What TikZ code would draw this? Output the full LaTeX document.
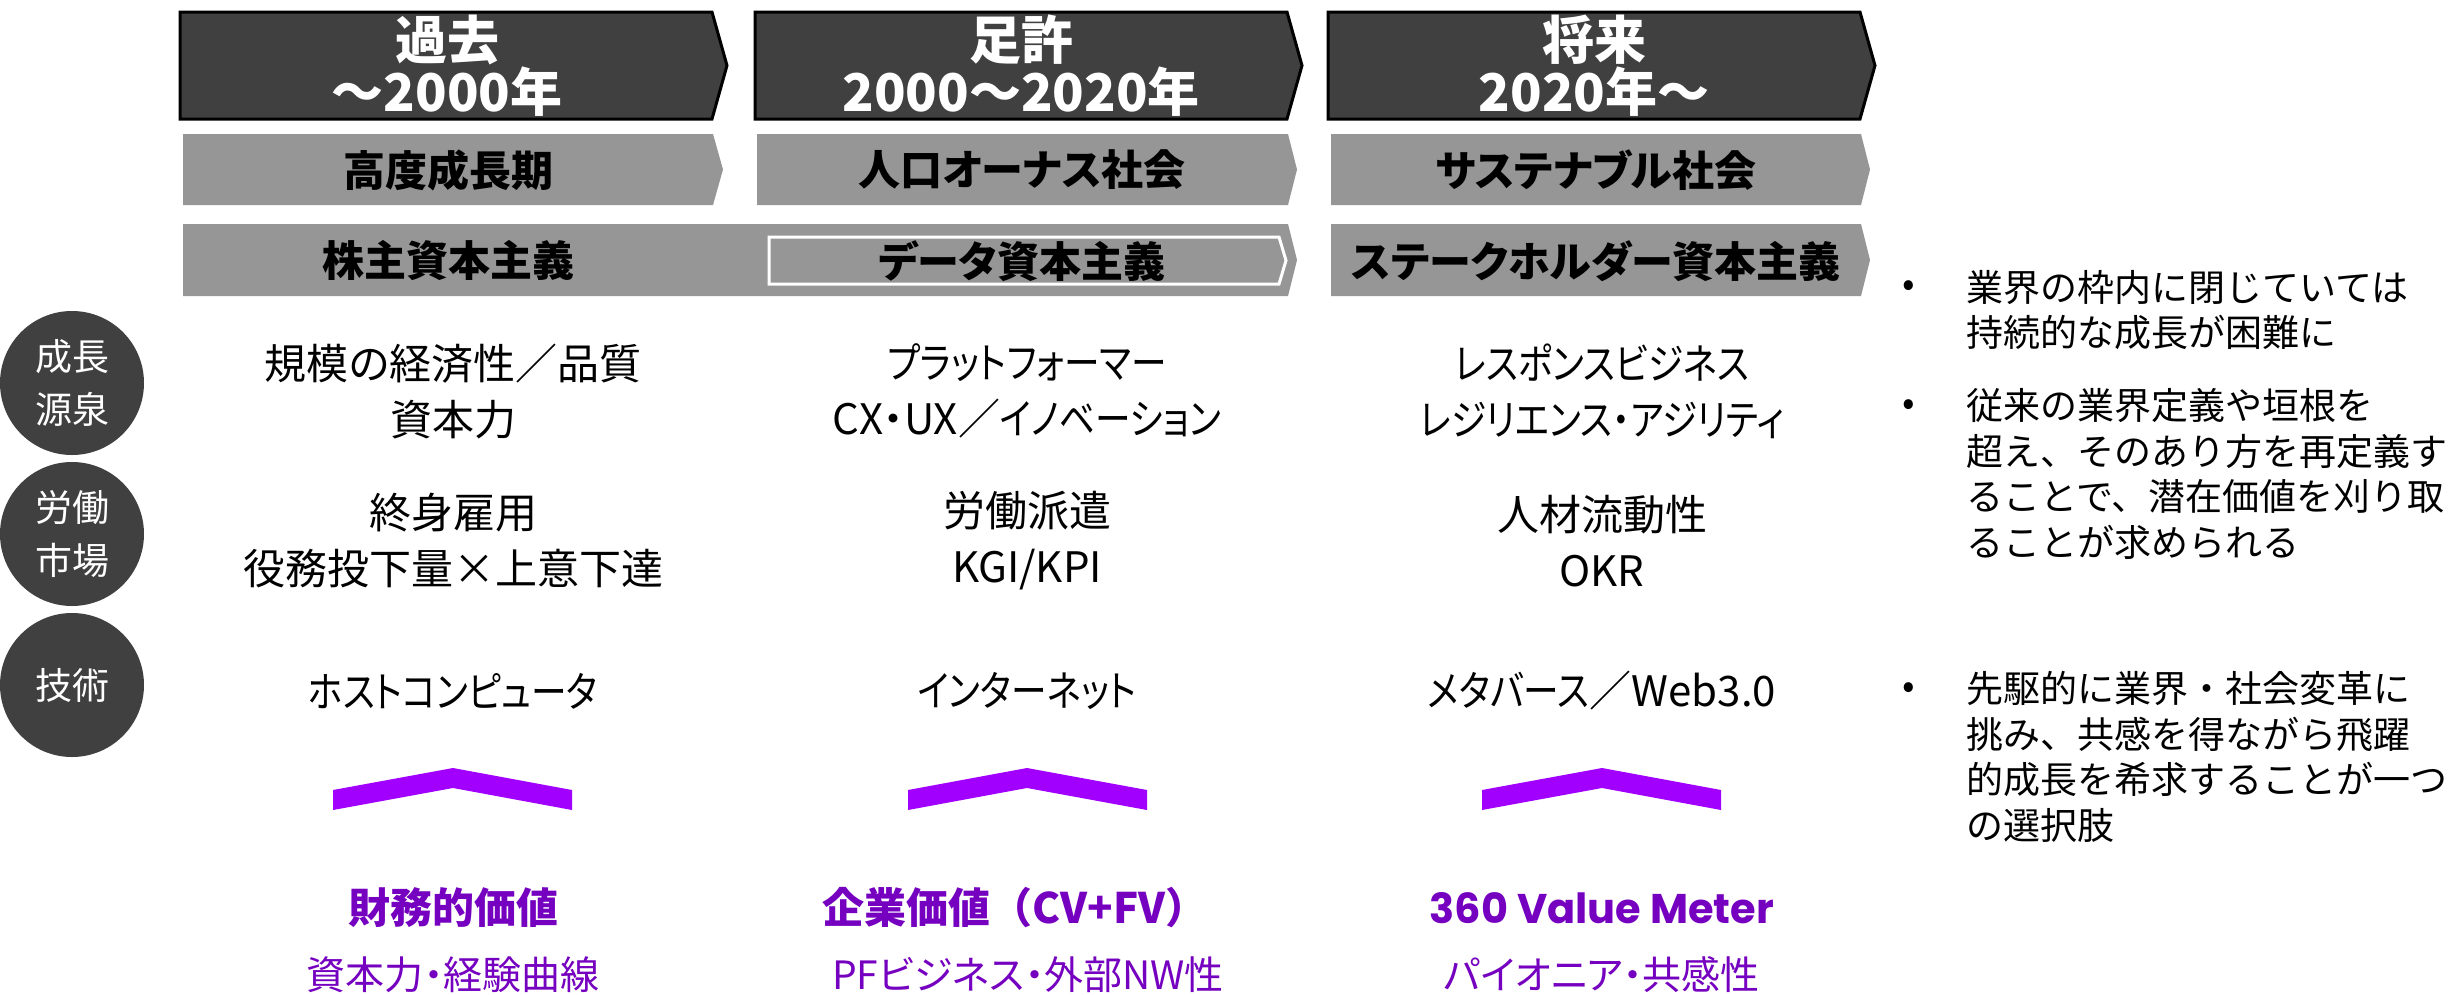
\documentclass[tikz,border=0pt]{standalone}
\usepackage{fontspec}
\setmainfont{Noto Sans CJK JP}
\newfontfamily\jpf{Noto Sans CJK JP}
\newfontfamily\jpp{Noto Sans CJK JP}[RawFeature=+palt]
\newfontfamily\jpk{Noto Sans CJK JP}[RawFeature=+palt, FakeStretch=0.85]
\newfontfamily\popf{Poppins}
\newcommand{\kn}[1]{{\jpk #1}}
\definecolor{hdr}{HTML}{404040}
\definecolor{gbar}{HTML}{969696}
\definecolor{purp}{HTML}{A100FF}
\definecolor{purptxt}{HTML}{7500C0}
\tikzset{
  hdrbox/.style={fill=hdr, draw=black, line width=3pt, line join=miter},
  graybox/.style={fill=gbar},
  innerbox/.style={draw=white, line width=3pt},
  chev/.style={fill=purp},
  hdrtxt/.style={text=white, font=\jpf\bfseries\fontsize{52}{52}\selectfont, align=center, inner sep=0},
  bartxt/.style={text=black, font=\jpp\bfseries\fontsize{42}{50}\selectfont, inner sep=0},
  body/.style={text=black, font=\jpp\fontsize{42}{56}\selectfont, align=center, inner sep=0},
  circ/.style={circle, fill=hdr, minimum size=144pt, inner sep=0, text=white, font=\jpf\fontsize{37}{53}\selectfont, align=center},
  ttl/.style={text=purptxt, font=\jpf\bfseries\fontsize{42}{50}\selectfont, inner sep=0},
  sub/.style={text=purptxt, font=\jpp\fontsize{39}{50}\selectfont, inner sep=0},
  bul/.style={text=black, font=\jpf\fontsize{37}{45.5}\selectfont, align=left, inner sep=0, anchor=west},
  dot/.style={text=black, font=\jpf\fontsize{37}{45.5}\selectfont, inner sep=0}
}
\begin{document}
\begin{tikzpicture}[x=1pt,y=-1pt]
\useasboundingbox (0,0) rectangle (2450,994);
\fill[white] (0,0) rectangle (2450,994);

% header row
\draw[hdrbox] (180,12) -- (712,12) -- (727,65.5) -- (712,119) -- (180,119) -- cycle;
\draw[hdrbox] (755,12) -- (1287,12) -- (1302,65.5) -- (1287,119) -- (755,119) -- cycle;
\draw[hdrbox] (1328,12) -- (1860,12) -- (1875,65.5) -- (1860,119) -- (1328,119) -- cycle;
\node[hdrtxt] (h1) at (447,66) {過去\\～2000年};
\node[hdrtxt] (h2) at (1021,66) {足許\\2000～2020年};
\node[hdrtxt] (h3) at (1594,66) {将来\\2020年～};

% row 2
\fill[graybox] (183,134) -- (713,134) -- (723,169.5) -- (713,205) -- (183,205) -- cycle;
\fill[graybox] (757,134) -- (1288,134) -- (1297,169.5) -- (1288,205) -- (757,205) -- cycle;
\fill[graybox] (1331,134) -- (1861,134) -- (1870,169.5) -- (1861,205) -- (1331,205) -- cycle;
\node[bartxt] (r2a) at (448,170) {高度成長期};
\node[bartxt] (r2b) at (1022,170) {人口オーナス社会};
\node[bartxt] (r2c) at (1596,170) {サステナブル社会};

% row 3
\fill[graybox] (183,224) -- (1288,224) -- (1297,260) -- (1288,296) -- (183,296) -- cycle;
\draw[innerbox] (769,237) -- (1279,237) -- (1286,260.5) -- (1279,284) -- (769,284) -- cycle;
\fill[graybox] (1331,224) -- (1861,224) -- (1870,260) -- (1861,296) -- (1331,296) -- cycle;
\node[bartxt] (r3a) at (448,261) {株主資本主義};
\node[bartxt] (r3b) at (1022,261) {データ資本主義};
\node[bartxt] (r3c) at (1596,261) {ステークホルダー資本主義};

% circles
\node[circ] (c1) at (72,383) {成長\\源泉};
\node[circ] (c2) at (72,534) {労働\\市場};
\node[circ] (c3) at (72,685) {技術};

% body texts
\node[body] (a1) at (453,391) {規模の経済性／品質\\資本力};
\node[body] (a2) at (1027,391) {\kn{プラットフォーマー}\\CX・UX／\kn{イノベーション}};
\node[body] (a3) at (1602,391) {\kn{レスポンスビジネス}\\\kn{レジリエンス・アジリティ}};
\node[body] (b1) at (453,541) {終身雇用\\役務投下量×上意下達};
\node[body] (b2) at (1027,541) {労働派遣\\KGI/KPI};
\node[body] (b3) at (1602,541) {人材流動性\\OKR};
\node[body] (t1) at (453,691) {\kn{ホストコンピュータ}};
\node[body] (t2) at (1027,691) {\kn{インターネット}};
\node[body] (t3) at (1602,691) {\kn{メタバース}／Web3.0};

% chevrons
\fill[chev] (333,790) -- (453,768) -- (572,790) -- (572,810) -- (453,788) -- (333,810) -- cycle;
\fill[chev] (908,790) -- (1027,768) -- (1147,790) -- (1147,810) -- (1027,788) -- (908,810) -- cycle;
\fill[chev] (1482,790) -- (1602,768) -- (1721,790) -- (1721,810) -- (1602,788) -- (1482,810) -- cycle;

% value titles
\node[ttl] (v1) at (453,908) {財務的価値};
\node[ttl] (v2) at (1015,908) {企業価値（CV+FV）};
\node[ttl, font=\popf\bfseries\fontsize{41.5}{50}\selectfont] (v3) at (1602,908) {360 Value Meter};
\node[sub] (s1) at (453,975) {資本力・経験曲線};
\node[sub] (s2) at (1028,975) {PFビジネス・外部NW性};
\node[sub] (s3) at (1602,975) {パイオニア・共感性};

% bullets
\node[dot] (d1) at (1909,289) {•};
\node[dot] (d2) at (1909,408) {•};
\node[dot] (d3) at (1909,691) {•};
\node[bul] (p1) at (1966,310) {業界の枠内に閉じていては\\持続的な成長が困難に};
\node[bul] (p2) at (1966,474) {従来の業界定義や垣根を\\超え、そのあり方を再定義す\\ることで、潜在価値を刈り取\\ることが求められる};
\node[bul] (p3) at (1966,757) {先駆的に業界・社会変革に\\挑み、共感を得ながら飛躍\\的成長を希求することが一つ\\の選択肢};
\end{tikzpicture}
\end{document}
